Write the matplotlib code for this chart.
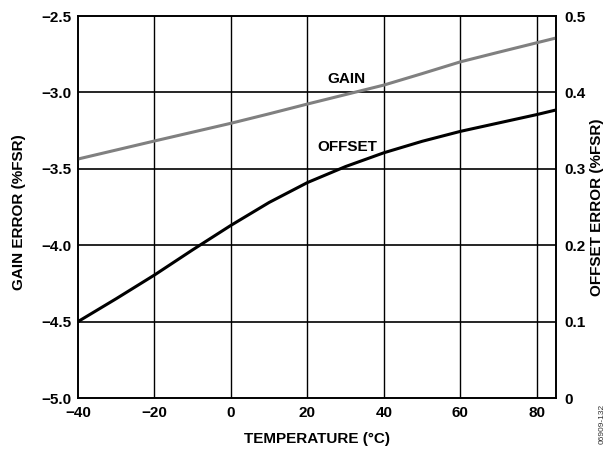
import matplotlib
matplotlib.use("Agg")
import matplotlib.pyplot as plt

plt.rcParams['font.family'] = ['Liberation Sans', 'DejaVu Sans']
plt.rcParams['font.weight'] = 'bold'

temperature = [-40, -30, -20, -10, 0, 10, 20, 30, 40, 50, 60, 70, 80, 85]
gain_error = [-3.436, -3.377, -3.318, -3.260, -3.202, -3.140, -3.076, -3.014,
              -2.952, -2.877, -2.800, -2.737, -2.675, -2.644]
offset_error = [0.100, 0.130, 0.161, 0.194, 0.226, 0.256, 0.282, 0.303,
                0.321, 0.336, 0.349, 0.360, 0.371, 0.377]

x_ticks = [-40, -20, 0, 20, 40, 60, 80]
x_ticklabels = ['−40', '−20', '0', '20', '40', '60', '80']
gain_ticks = [-5.0, -4.5, -4.0, -3.5, -3.0, -2.5]
gain_ticklabels = ['−5.0', '−4.5', '−4.0', '−3.5', '−3.0', '−2.5']
offset_ticks = [0, 0.1, 0.2, 0.3, 0.4, 0.5]
offset_ticklabels = ['0', '0.1', '0.2', '0.3', '0.4', '0.5']

W, H = 610, 449
fs = 11
fig = plt.figure(figsize=(W / 100, H / 100), dpi=100)
L, R, T, B = 78, 556, 16, 398
ax = fig.add_axes([L / W, 1 - B / H, (R - L) / W, (B - T) / H])
ax2 = ax.twinx()

ax.set_xlim(-40, 85)
ax.set_ylim(-5.0, -2.5)
ax2.set_ylim(0, 0.5)

# grid
for xv in x_ticks[1:]:
    ax.axvline(xv, color='black', lw=1.0, zorder=1)
for yv in gain_ticks[1:-1]:
    ax.axhline(yv, color='black', lw=1.2, zorder=1)

ax.plot(temperature, gain_error, color='#808080', lw=2.2, zorder=3, solid_capstyle='butt')
ax2.plot(temperature, offset_error, color='black', lw=2.2, zorder=3, solid_capstyle='butt')

ax.set_xticks(x_ticks)
ax.set_xticklabels(x_ticklabels, fontsize=fs, fontweight='bold')
ax.set_yticks(gain_ticks)
ax.set_yticklabels(gain_ticklabels, fontsize=fs, fontweight='bold')
ax2.set_yticks(offset_ticks)
ax2.set_yticklabels(offset_ticklabels, fontsize=fs, fontweight='bold')
ax.tick_params(axis='x', length=0, pad=5.5)
ax.tick_params(axis='y', length=0, pad=4.5)
ax2.tick_params(axis='y', length=0, pad=6)

for a in (ax, ax2):
    for s in a.spines.values():
        s.set_linewidth(1.2)
        s.set_color('black')

fig.text((L + R) / 2 / W, 1 - 443 / H, 'TEMPERATURE (°C)', fontsize=fs, fontweight='bold',
         ha='center', va='baseline')
fig.text(19 / W, 1 - 212 / H, 'GAIN ERROR (%FSR)', fontsize=fs, fontweight='bold',
         rotation=90, ha='center', va='center')
fig.text(597 / W, 1 - 207 / H, 'OFFSET ERROR (%FSR)', fontsize=fs, fontweight='bold',
         rotation=90, ha='center', va='center')

ax.text(30.1, -2.912, 'GAIN', fontsize=fs, fontweight='bold', ha='center', va='center', zorder=4)
ax.text(30.3, -3.355, 'OFFSET', fontsize=fs, fontweight='bold', ha='center', va='center', zorder=4)

fig.text(602.5 / W, 1 - 404 / H, '06909-132', fontsize=6, fontweight='normal', rotation=90,
         ha='center', va='top', color='#333333')

fig.savefig('out.png', dpi=100)
